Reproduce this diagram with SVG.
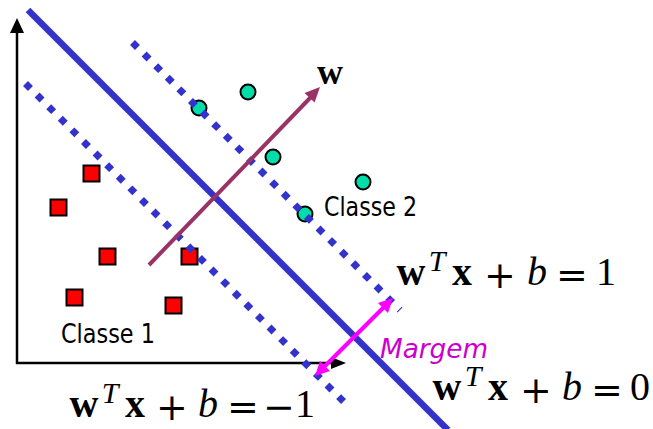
<svg xmlns="http://www.w3.org/2000/svg" width="653" height="429" viewBox="0 0 653 429">
<style>
.ax{stroke:#000;stroke-width:2.5;fill:none}
.sep{stroke:#3333CC;stroke-width:6.5;fill:none}
.dot{stroke:#3333CC;stroke-width:7;fill:none;stroke-dasharray:7 9.4}
.c2{fill:#00DDAA;stroke:#000;stroke-width:2}
.c1{fill:#FF0000;stroke:#000;stroke-width:2}
.lbl{font-family:"DejaVu Sans","Liberation Sans",sans-serif;font-size:26px;fill:#000}
.m{font-family:"Liberation Serif","Times New Roman",serif;font-size:40px;fill:#000;text-anchor:middle}
.bf{font-weight:bold}
.it{font-style:italic}
.sup{font-size:30px}
.op{font-family:"DejaVu Serif","Liberation Serif",serif;font-size:38px}
</style>
<g id="axes">
<line class="ax" x1="17" y1="364" x2="17" y2="31"/>
<polygon points="17,18 10,33 24,33" fill="#000"/>
<line class="ax" x1="16" y1="363" x2="333" y2="363"/>
<polygon points="346,363 331,357 331,369" fill="#000"/>
</g>
<g id="class1">
<rect class="c1" x="83.5" y="165.5" width="16" height="16"/>
<rect class="c1" x="50.5" y="199.5" width="16" height="16"/>
<rect class="c1" x="99.5" y="248.5" width="16" height="16"/>
<rect class="c1" x="181.5" y="248.5" width="16" height="16"/>
<rect class="c1" x="66.5" y="289.5" width="16" height="16"/>
<rect class="c1" x="165.5" y="297.5" width="16" height="16"/>
</g>
<g id="class2">
<circle class="c2" cx="199" cy="108" r="7.5"/>
<circle class="c2" cx="248" cy="92" r="7.5"/>
<circle class="c2" cx="273" cy="157" r="7.5"/>
<circle class="c2" cx="363" cy="182" r="7.5"/>
<circle class="c2" cx="305" cy="214" r="7.5"/>
</g>
<g id="connectors">
<line class="dot" x1="132.5" y1="42.5" x2="400" y2="310"/>
<line class="dot" x1="25.5" y1="83.5" x2="348" y2="406"/>
<line class="sep" x1="28" y1="10" x2="448" y2="430"/>
<g id="w-vector">
<line x1="149" y1="265" x2="311" y2="97" stroke="#993366" stroke-width="4"/>
<polygon points="320,87 314.6,102.6 304.5,93" fill="#993366"/>
</g>
<g id="margin-arrow">
<line x1="384" y1="307" x2="324" y2="367" stroke="#FF00FF" stroke-width="4"/>
<polygon points="393,298 388,313 378,303" fill="#FF00FF"/>
<polygon points="315,376 330,371 320,361" fill="#FF00FF"/>
</g>
</g>
<g id="label-w"><text class="m bf" x="330" y="84" style="font-size:36px">w</text></g>
<g id="label-classe1"><text class="lbl" x="61" y="343" textLength="94" lengthAdjust="spacingAndGlyphs">Classe 1</text></g>
<g id="label-classe2"><text class="lbl" x="324" y="216" textLength="93" lengthAdjust="spacingAndGlyphs">Classe 2</text></g>
<g id="label-margem"><text class="lbl it" x="380" y="358" style="fill:#CC00CC;font-size:27px" textLength="108" lengthAdjust="spacingAndGlyphs">Margem</text></g>
<g id="eq-plus1">
<text class="m bf" x="411" y="285">w</text>
<text class="m it sup" x="437" y="271">T</text>
<text class="m bf" x="462" y="285">x</text>
<text class="m op" x="500" y="288">+</text>
<text class="m it" x="537" y="285">b</text>
<text class="m op" x="572" y="288">=</text>
<text class="m" x="606" y="285">1</text>
</g>
<g id="eq-zero">
<text class="m bf" x="447" y="400">w</text>
<text class="m it sup" x="473" y="386">T</text>
<text class="m bf" x="498" y="400">x</text>
<text class="m op" x="536" y="403">+</text>
<text class="m it" x="572" y="400">b</text>
<text class="m op" x="607" y="403">=</text>
<text class="m" x="640" y="400">0</text>
</g>
<g id="eq-minus1">
<text class="m bf" x="84" y="417">w</text>
<text class="m it sup" x="110" y="403">T</text>
<text class="m bf" x="135" y="417">x</text>
<text class="m op" x="172" y="420">+</text>
<text class="m it" x="208" y="417">b</text>
<text class="m op" x="243" y="420">=</text>
<text class="m op" x="279" y="420">−</text>
<text class="m" x="305" y="417">1</text>
</g>
</svg>
